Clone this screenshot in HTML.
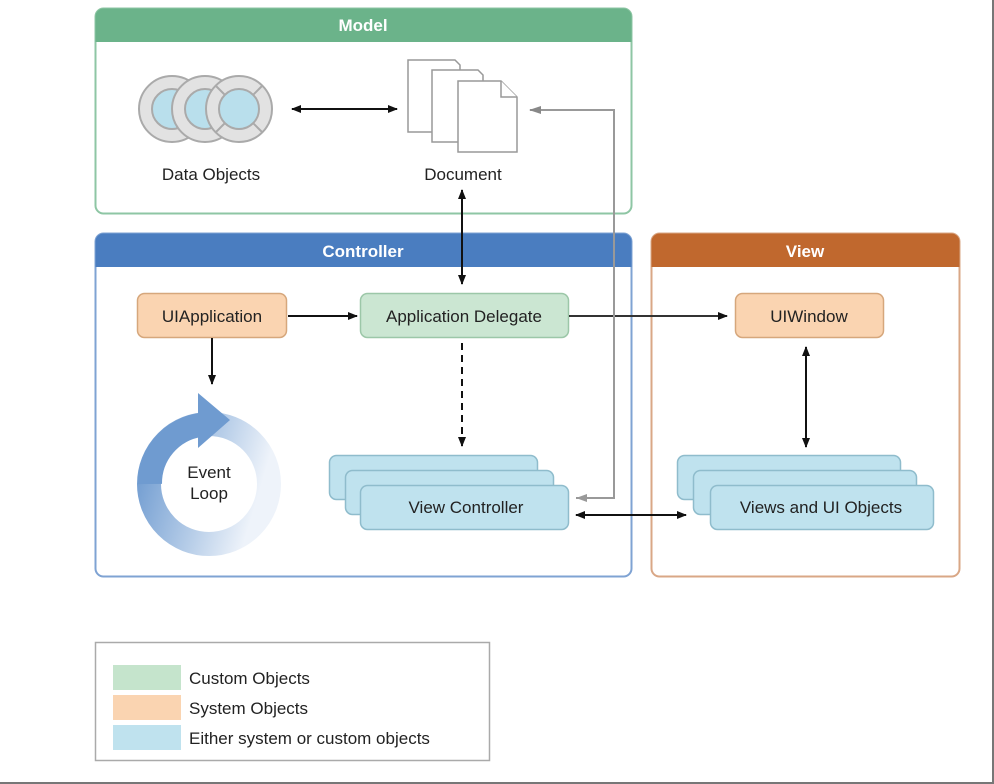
<!DOCTYPE html>
<html><head><meta charset="utf-8"><style>
html,body{margin:0;padding:0;background:#fff;}
svg{display:block;font-family:"Liberation Sans",Arial,sans-serif;}
</style></head><body>
<svg width="994" height="784" viewBox="0 0 994 784" xmlns="http://www.w3.org/2000/svg">
<defs>
<marker id="ab" markerWidth="10" markerHeight="8" refX="9" refY="4" orient="auto" markerUnits="userSpaceOnUse"><path d="M0,0 L10,4 L0,8 z" fill="#111"/></marker>
<marker id="as" markerWidth="10" markerHeight="8" refX="1" refY="4" orient="auto" markerUnits="userSpaceOnUse"><path d="M10,0 L0,4 L10,8 z" fill="#111"/></marker>
<marker id="ag" markerWidth="12" markerHeight="8" refX="11" refY="4" orient="auto" markerUnits="userSpaceOnUse"><path d="M0,0 L12,4 L0,8 z" fill="#888"/></marker>
<linearGradient id="lg" x1="0" y1="0" x2="1" y2="0.3"><stop offset="0" stop-color="#6f9bd0"/><stop offset="0.6" stop-color="#b9cfe9"/><stop offset="1" stop-color="#eef3fa"/></linearGradient>
</defs>
<rect x="0" y="0" width="994" height="784" fill="#fff"/>
<line x1="993" y1="0" x2="993" y2="784" stroke="#777" stroke-width="2"/>
<line x1="0" y1="783" x2="994" y2="783" stroke="#777" stroke-width="2"/>

<!-- Model -->
<rect x="95.5" y="8.5" width="536" height="205" rx="8" fill="#fff" stroke="#8ec6a4" stroke-width="2"/>
<path d="M95.5,42 V16.5 a8,8 0 0 1 8,-8 H623.5 a8,8 0 0 1 8,8 V42 z" fill="#6bb38a"/>
<text x="363" y="31" text-anchor="middle" font-size="17" font-weight="bold" fill="#fff">Model</text>

<!-- Data objects -->
<g stroke="#aaa" stroke-width="2">
<circle cx="172" cy="109" r="33" fill="#e2e2e2"/><circle cx="172" cy="109" r="20" fill="#b9dfec"/>
<circle cx="205" cy="109" r="33" fill="#e2e2e2"/><circle cx="205" cy="109" r="20" fill="#b9dfec"/>
<circle cx="239" cy="109" r="33" fill="#e2e2e2"/><circle cx="239" cy="109" r="20" fill="#b9dfec"/>
<line x1="216" y1="86" x2="225" y2="95"/><line x1="262" y1="86" x2="253" y2="95"/><line x1="216" y1="132" x2="225" y2="123"/><line x1="262" y1="132" x2="253" y2="123"/>
</g>
<text x="211" y="180" text-anchor="middle" font-size="17" fill="#222">Data Objects</text>
<line x1="292" y1="109" x2="397" y2="109" stroke="#111" stroke-width="2" marker-start="url(#as)" marker-end="url(#ab)"/>

<!-- Document -->
<g fill="#fff" stroke="#999" stroke-width="1.5">
<path d="M408,60 H455 L460,65 V132 H408 z"/>
<path d="M432,70 H478 L483,75 V142 H432 z"/>
<path d="M458,81 H501 L517,97 V152 H458 z"/><path d="M501,81 V97 H517"/>
</g>
<text x="463" y="180" text-anchor="middle" font-size="17" fill="#222">Document</text>

<!-- Controller -->
<rect x="95.5" y="233.5" width="536" height="343" rx="8" fill="#fff" stroke="#7fa3d3" stroke-width="2"/>
<path d="M95.5,267 V241.5 a8,8 0 0 1 8,-8 H623.5 a8,8 0 0 1 8,8 V267 z" fill="#4a7dc0"/>
<text x="363" y="257" text-anchor="middle" font-size="17" font-weight="bold" fill="#fff">Controller</text>

<!-- View -->
<rect x="651.5" y="233.5" width="308" height="343" rx="8" fill="#fff" stroke="#d9a786" stroke-width="2"/>
<path d="M651.5,267 V241.5 a8,8 0 0 1 8,-8 H951.5 a8,8 0 0 1 8,8 V267 z" fill="#c0682e"/>
<text x="805" y="257" text-anchor="middle" font-size="17" font-weight="bold" fill="#fff">View</text>

<!-- nodes -->
<rect x="137.5" y="293.5" width="149" height="44" rx="7" fill="#fad4b1" stroke="#d6a77c" stroke-width="1.5"/>
<text x="212" y="322" text-anchor="middle" font-size="17" fill="#222">UIApplication</text>
<rect x="360.5" y="293.5" width="208" height="44" rx="7" fill="#cbe6d2" stroke="#9cc7a8" stroke-width="1.5"/>
<text x="464" y="322" text-anchor="middle" font-size="17" fill="#222">Application Delegate</text>
<rect x="735.5" y="293.5" width="148" height="44" rx="7" fill="#fad4b1" stroke="#d6a77c" stroke-width="1.5"/>
<text x="809" y="322" text-anchor="middle" font-size="17" fill="#222">UIWindow</text>

<g fill="#bfe2ee" stroke="#8fbccc" stroke-width="1.5">
<rect x="329.5" y="455.5" width="208" height="44" rx="7"/>
<rect x="345.5" y="470.5" width="208" height="44" rx="7"/>
<rect x="360.5" y="485.5" width="208" height="44" rx="7"/>
<rect x="677.5" y="455.5" width="223" height="44" rx="7"/>
<rect x="693.5" y="470.5" width="223" height="44" rx="7"/>
<rect x="710.5" y="485.5" width="223" height="44" rx="7"/>
</g>
<text x="466" y="513" text-anchor="middle" font-size="17" fill="#222">View Controller</text>
<text x="821" y="513" text-anchor="middle" font-size="17" fill="#222">Views and UI Objects</text>

<!-- Event loop -->
<circle cx="209" cy="484" r="60" fill="none" stroke="url(#lg)" stroke-width="24"/>
<path d="M150,484 A59,59 0 0 1 200,425" fill="none" stroke="#6f9bd0" stroke-width="24"/>
<path d="M198,393 L230,420 L198,448 z" fill="#6f9bd0"/>
<text x="209" y="478" text-anchor="middle" font-size="17" fill="#222">Event</text>
<text x="209" y="499" text-anchor="middle" font-size="17" fill="#222">Loop</text>

<!-- connectors -->
<line x1="462" y1="190" x2="462" y2="284" stroke="#111" stroke-width="2" marker-start="url(#as)" marker-end="url(#ab)"/>
<line x1="288" y1="316" x2="357" y2="316" stroke="#111" stroke-width="2" marker-end="url(#ab)"/>
<line x1="569" y1="316" x2="727" y2="316" stroke="#333" stroke-width="2" marker-end="url(#ab)"/>
<line x1="212" y1="338" x2="212" y2="384" stroke="#111" stroke-width="2" marker-end="url(#ab)"/>
<line x1="462" y1="343" x2="462" y2="446" stroke="#111" stroke-width="2" stroke-dasharray="7,5" marker-end="url(#ab)"/>
<line x1="806" y1="347" x2="806" y2="447" stroke="#111" stroke-width="2" marker-start="url(#as)" marker-end="url(#ab)"/>
<polyline points="576,498 614,498 614,110 530,110" fill="none" stroke="#999" stroke-width="2" marker-end="url(#ag)"/>
<path d="M587,494 L576,498 L587,502 z" fill="#999"/>
<line x1="576" y1="515" x2="686" y2="515" stroke="#111" stroke-width="2" marker-start="url(#as)" marker-end="url(#ab)"/>

<!-- legend -->
<rect x="95.5" y="642.5" width="394" height="118" fill="#fff" stroke="#aaa" stroke-width="1.5"/>
<rect x="113" y="665" width="68" height="25" fill="#c5e4cc"/>
<rect x="113" y="695" width="68" height="25" fill="#fad4b1"/>
<rect x="113" y="725" width="68" height="25" fill="#bfe2ee"/>
<text x="189" y="684" font-size="17" fill="#222">Custom Objects</text>
<text x="189" y="714" font-size="17" fill="#222">System Objects</text>
<text x="189" y="744" font-size="17" fill="#222">Either system or custom objects</text>
</svg>
</body></html>
